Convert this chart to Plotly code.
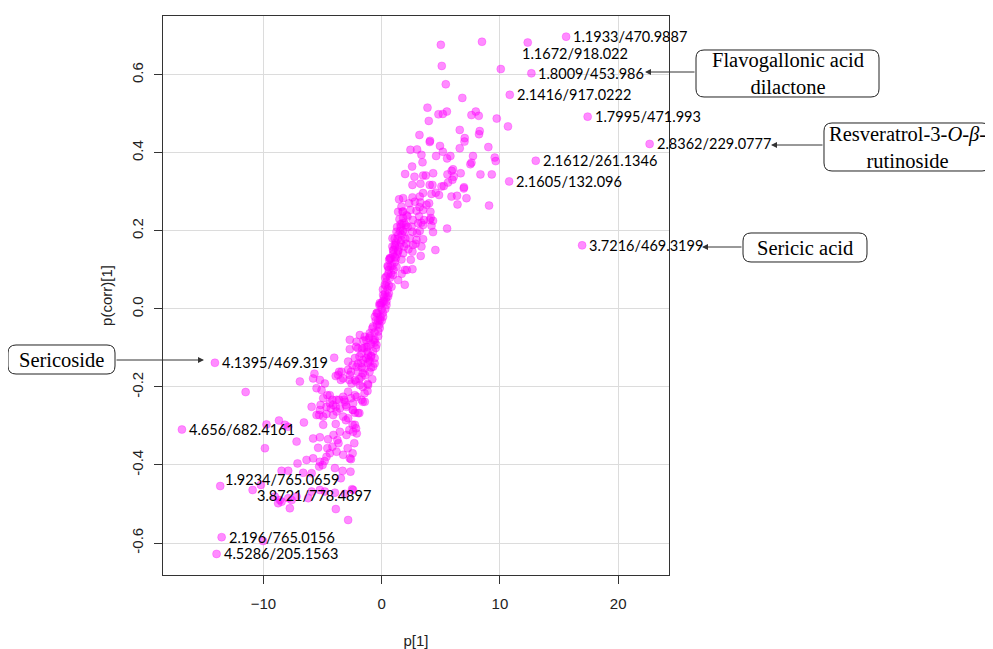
import plotly.graph_objects as go

# ---------------- data (p[1], p(corr)[1]) ----------------
upper_cloud = [
    (5.00, 0.677), (8.48, 0.685), (10.07, 0.615), (5.08, 0.623), (5.42, 0.576), (6.82, 0.541),
    (3.87, 0.516), (4.80, 0.499), (5.17, 0.500), (5.51, 0.506), (7.59, 0.497), (7.96, 0.506),
    (8.21, 0.495), (9.73, 0.488), (3.98, 0.482), (10.68, 0.468), (6.60, 0.459), (3.19, 0.446),
    (4.09, 0.431), (4.06, 0.428), (7.02, 0.438), (7.00, 0.429), (8.29, 0.456), (8.23, 0.448),
    (4.93, 0.418), (9.02, 0.415), (6.60, 0.412), (2.43, 0.408), (2.99, 0.409), (5.17, 0.403),
    (3.36, 0.395), (4.60, 0.392), (5.81, 0.392), (5.53, 0.386), (7.72, 0.392), (9.56, 0.388),
    (9.64, 0.379), (3.45, 0.376), (2.57, 0.365), (7.50, 0.371), (7.59, 0.375), (6.03, 0.358),
    (5.92, 0.354), (1.98, 0.346), (2.77, 0.339), (3.50, 0.342), (3.73, 0.342), (4.35, 0.348),
    (5.56, 0.345), (6.09, 0.339), (6.68, 0.348), (8.35, 0.345), (9.31, 0.345),
]

mid_cloud = [
    (2.60, 0.318), (3.28, 0.321), (4.06, 0.318), (4.29, 0.318), (5.05, 0.314), (5.25, 0.315),
    (5.61, 0.324), (5.98, 0.331), (6.94, 0.309), (6.96, 0.312), (3.50, 0.297), (4.21, 0.295),
    (4.85, 0.292), (4.57, 0.298), (5.90, 0.288), (6.37, 0.290), (7.17, 0.284), (6.41, 0.268),
    (9.08, 0.265), (1.47, 0.281), (1.81, 0.284), (2.60, 0.286), (3.22, 0.288), (2.32, 0.271),
    (2.80, 0.275), (3.28, 0.273), (4.01, 0.271), (3.79, 0.267), (1.39, 0.249), (1.76, 0.249),
    (1.67, 0.262), (2.43, 0.254), (2.94, 0.252), (3.50, 0.254), (4.12, 0.249), (1.81, 0.233),
    (2.18, 0.237), (2.65, 0.228), (3.16, 0.237), (3.58, 0.228), (4.15, 0.233), (4.34, 0.226),
    (1.59, 0.217), (2.04, 0.215), (2.52, 0.211), (3.08, 0.220), (3.50, 0.215), (4.21, 0.213),
    (5.53, 0.206), (1.25, 0.198), (1.95, 0.198), (2.60, 0.198), (3.22, 0.200), (4.34, 0.197),
    (0.91, 0.181), (1.67, 0.177), (2.37, 0.181), (2.94, 0.177), (3.50, 0.179), (1.10, 0.164),
    (2.09, 0.167), (2.65, 0.164), (3.36, 0.160), (4.54, 0.151), (0.96, 0.151), (1.39, 0.147),
    (1.81, 0.143), (2.60, 0.147), (3.30, 0.136), (0.68, 0.130), (1.10, 0.133), (1.67, 0.127),
    (2.46, 0.126), (0.54, 0.108), (1.25, 0.108), (1.95, 0.100), (2.60, 0.102), (0.40, 0.083),
    (0.96, 0.087), (1.39, 0.074), (1.95, 0.062), (0.26, 0.062), (0.83, 0.057), (0.12, 0.036),
    (0.54, 0.032), (-0.02, 0.015), (0.40, 0.010), (-0.30, -0.011), (0.12, -0.020), (-0.58, -0.020),
    (3.20, 0.261), (2.98, 0.194), (1.89, 0.160), (2.26, 0.153), (2.87, 0.167), (0.63, 0.126),
    (1.69, 0.090), (2.12, 0.100), (3.35, 0.221), (4.06, 0.228),
]

core_cloud = [
    (0.00, 0.00), (0.20, 0.02), (0.30, 0.04), (0.50, 0.05), (0.40, 0.07), (0.70, 0.08),
    (0.60, 0.10), (0.90, 0.11), (0.80, 0.13), (1.10, 0.12), (1.00, 0.15), (1.30, 0.14),
    (1.20, 0.17), (1.50, 0.16), (1.40, 0.19), (1.70, 0.19), (1.60, 0.21), (1.90, 0.22),
    (0.10, 0.05), (0.30, 0.08), (0.50, 0.11), (0.70, 0.13), (0.90, 0.16), (1.10, 0.18),
    (1.30, 0.21), (1.50, 0.23), (0.60, 0.06), (0.80, 0.09), (1.00, 0.10), (1.20, 0.13),
    (1.40, 0.15), (1.60, 0.17), (1.80, 0.20), (2.00, 0.18), (2.20, 0.21), (1.80, 0.25),
    (2.10, 0.24), (-0.20, 0.01), (-0.10, -0.02), (0.10, -0.01), (0.30, 0.00), (-0.30, -0.03),
    (0.20, 0.03), (0.40, 0.03), (0.60, 0.04), (0.35, 0.06), (0.55, 0.09), (0.75, 0.11),
    (0.95, 0.14), (1.15, 0.16), (1.35, 0.18), (1.55, 0.20), (1.75, 0.22),
    (-0.50, -0.03), (-0.80, -0.05), (-1.00, -0.07), (-1.30, -0.08), (-0.60, -0.06), (-0.90, -0.09),
    (-1.20, -0.11), (-0.40, -0.04), (-0.70, -0.08), (-1.50, -0.10), (-1.10, -0.13), (-0.90, -0.15),
    (-0.50, -0.10), (-0.30, -0.07), (-1.70, -0.15), (-1.40, -0.17), (-0.80, -0.18), (-1.20, -0.21),
    (-0.90, -0.12), (-0.60, -0.14), (-1.90, -0.18), (-1.60, -0.20), (-2.00, -0.14), (-0.20, -0.04),
    (0.00, -0.03), (-0.40, -0.01), (-0.10, 0.01), (0.10, 0.02),
]

lower_cloud = [
    (-0.16, 0.015), (0.40, 0.019), (-0.44, -0.011), (-0.16, -0.028), (-0.73, -0.045), (-0.30, -0.058),
    (-1.85, -0.067), (-1.43, -0.071), (-1.01, -0.062), (-0.58, -0.079), (-2.70, -0.079), (-2.13, -0.084),
    (-2.70, -0.103), (-2.00, -0.101), (-1.29, -0.097), (-0.44, -0.092), (-1.71, -0.114), (-1.15, -0.118),
    (-0.73, -0.109), (-1.57, -0.131), (-1.01, -0.135), (-2.27, -0.126), (-2.84, -0.135), (-2.13, -0.148),
    (-1.43, -0.152), (-0.73, -0.148), (-4.02, -0.125), (-2.84, -0.156), (-3.40, -0.161), (-3.69, -0.169),
    (-3.26, -0.178), (-2.70, -0.169), (-2.27, -0.182), (-1.71, -0.174), (-1.15, -0.195), (-1.85, -0.195),
    (-2.55, -0.191), (-6.92, -0.186), (-5.80, -0.178), (-5.23, -0.182), (-4.81, -0.191), (-5.51, -0.203),
    (-5.09, -0.208), (-4.39, -0.221), (-4.95, -0.229), (-3.82, -0.233), (-3.26, -0.225), (-2.84, -0.212),
    (-2.27, -0.221), (-1.71, -0.233), (-1.43, -0.238), (-5.93, -0.251), (-5.23, -0.259), (-4.67, -0.251),
    (-4.11, -0.246), (-3.54, -0.255), (-2.98, -0.251), (-2.42, -0.259), (-2.00, -0.267), (-5.51, -0.272),
    (-4.95, -0.276), (-4.11, -0.272), (-3.26, -0.276), (-2.84, -0.280),
    (-1.54, -0.081), (-1.08, -0.075), (-0.17, -0.049), (-2.17, -0.097), (-1.66, -0.101), (-1.18, -0.097),
    (-0.60, -0.086), (-1.89, -0.122), (-1.31, -0.126), (-0.89, -0.122), (-0.60, -0.126), (-2.46, -0.144),
    (-1.74, -0.139), (-1.18, -0.139), (-3.60, -0.161), (-2.60, -0.161), (-2.03, -0.161), (-1.60, -0.165),
    (-1.03, -0.161), (-3.89, -0.172), (-3.46, -0.182), (-2.74, -0.182), (-2.17, -0.186), (-1.18, -0.192),
    (-4.60, -0.221), (-4.17, -0.233), (-3.60, -0.233), (-3.17, -0.233), (-2.60, -0.229), (-2.11, -0.225),
    (-1.45, -0.216), (-1.60, -0.238), (-4.31, -0.255), (-3.89, -0.251), (-3.03, -0.246), (-2.46, -0.259),
    (-1.89, -0.267), (-3.03, -0.285), (-2.46, -0.297), (-2.17, -0.306), (-2.74, -0.310), (-2.11, -0.319),
    (-2.32, -0.344), (-2.88, -0.357), (-2.46, -0.370), (-2.60, -0.385), (-3.75, -0.336), (-4.17, -0.353),
    (-4.60, -0.357), (-4.54, -0.334), (-4.08, -0.323), (-3.89, -0.295), (-3.66, -0.344),
]

tail_cloud = [
    (-5.17, -0.246), (-4.39, -0.242), (-3.12, -0.238), (-2.42, -0.242), (-5.29, -0.272), (-4.67, -0.269),
    (-3.82, -0.263), (-2.27, -0.266), (-6.58, -0.291), (-4.95, -0.297), (-2.27, -0.297), (-7.91, -0.302),
    (-9.88, -0.357), (-7.20, -0.340), (-5.80, -0.332), (-5.23, -0.329), (-3.54, -0.315), (-2.98, -0.323),
    (-2.42, -0.315), (-5.38, -0.356), (-6.36, -0.387), (-5.80, -0.383), (-5.23, -0.392), (-4.67, -0.379),
    (-4.39, -0.370), (-3.82, -0.366), (-3.26, -0.374), (-2.70, -0.383), (-7.12, -0.396), (-5.29, -0.404),
    (-5.00, -0.400), (-8.47, -0.415), (-7.91, -0.415), (-6.64, -0.420), (-5.93, -0.421), (-3.96, -0.408),
    (-3.31, -0.415), (-2.64, -0.417), (-3.46, -0.434), (-10.92, -0.464), (-10.22, -0.451), (-9.04, -0.481),
    (-8.61, -0.490), (-8.47, -0.494), (-8.76, -0.498), (-7.91, -0.485), (-7.62, -0.490), (-7.77, -0.511),
    (-7.20, -0.481), (-6.22, -0.485), (-5.93, -0.468), (-5.23, -0.464), (-4.81, -0.468), (-3.96, -0.471),
    (-3.12, -0.474), (-2.42, -0.464), (-3.88, -0.513), (-2.84, -0.541), (-11.51, -0.213), (-5.69, -0.166),
    (-9.75, -0.296), (-8.69, -0.286), (-8.19, -0.297), (-4.83, -0.390), (-2.51, -0.462), (-10.03, -0.595),
]

# labelled variables
label_text = ["1.1933/470.9887", "1.1672/918.022", "1.8009/453.986", "2.1416/917.0222",
              "1.7995/471.993", "2.8362/229.0777", "2.1612/261.1346", "2.1605/132.096",
              "3.7216/469.3199", "4.1395/469.319", "4.656/682.4161", "1.9234/765.0659",
              "2.196/765.0156", "4.5286/205.1563"]
label_p1 = [15.60, 12.35, 12.66, 10.83, 17.42, 22.66, 13.03, 10.78, 16.95,
            -14.11, -16.90, -13.66, -13.54, -13.97]
label_pcorr = [0.698, 0.683, 0.604, 0.549, 0.493, 0.423, 0.380, 0.327, 0.163,
               -0.138, -0.309, -0.454, -0.585, -0.628]

extra_label_text = ["3.8721/778.4897"]
extra_label_p1 = [-10.73]
extra_label_pcorr = [-0.479]

x_ticks = [-10, 0, 10, 20]
y_ticks = [-0.6, -0.4, -0.2, 0.0, 0.2, 0.4, 0.6]
y_tick_text = ["-0.6", "-0.4", "-0.2", "0.0", "0.2", "0.4", "0.6"]

compound_names = ["Flavogallonic acid<br>dilactone",
                  "Resveratrol-3-<i>O</i>-<i>β</i>-<br>rutinoside",
                  "Sericic acid", "Sericoside"]

# ---------------- layout helpers (pixel geometry of the page) ----------------
OFF = 8                      # default body margin of the html page
W, H = 993 - OFF, 649 - OFF  # figure size
L, R, T, B = 163, 669, 16, 575  # plot frame in page pixels


def pxx(x):
    return (x - L) / (R - L)


def pxy(y):
    return (B - y) / (B - T)


def rbox(x0, y0, x1, y1, r=8):
    pts = [
        ("M", (x0 + r, y0)), ("L", (x1 - r, y0)), ("Q", (x1, y0), (x1, y0 + r)),
        ("L", (x1, y1 - r)), ("Q", (x1, y1), (x1 - r, y1)), ("L", (x0 + r, y1)),
        ("Q", (x0, y1), (x0, y1 - r)), ("L", (x0, y0 + r)), ("Q", (x0, y0), (x0 + r, y0)),
    ]
    s = ""
    for seg in pts:
        s += seg[0] + " " + " ".join(f"{pxx(p[0]):.5f},{pxy(p[1]):.5f}" for p in seg[1:]) + " "
    return s + "Z"


# boxes: (x0, y0, x1, y1) in page px, arrow head (x,y), arrow tail (x,y)
boxes = [
    ((696, 50, 879, 97), (645, 72), (696, 72)),
    ((824, 123, 990, 171), (771, 145), (824, 145)),
    ((743, 233, 867, 262), (702, 247), (743, 247)),
    ((8, 345, 115, 374), (204, 360), (115, 360)),
]

cloud = upper_cloud + mid_cloud + core_cloud + lower_cloud + tail_cloud
cx = [p[0] for p in cloud]
cy = [p[1] for p in cloud]

MAG = "rgba(255,0,255,0.45)"
marker = dict(size=8, color=MAG, line=dict(width=0.8, color="rgba(255,0,255,0.35)"))

fig = go.Figure()
fig.add_trace(go.Scatter(x=cx, y=cy, mode="markers", marker=marker, hoverinfo="skip"))
fig.add_trace(go.Scatter(x=label_p1, y=label_pcorr, mode="markers", marker=marker,
                         text=label_text, hoverinfo="text"))

lab_font = dict(family="Lato, Open Sans, sans-serif", size=14.5, color="black")
special_shift = {1: (-8, -11), 11: (3, 7)}
annotations = []
for i, t in enumerate(label_text):
    xs, ys = special_shift.get(i, (5, 0))
    annotations.append(dict(x=label_p1[i], y=label_pcorr[i], text=t, showarrow=False,
                            xanchor="left", yanchor="middle", xshift=xs, yshift=ys,
                            font=lab_font))
for i, t in enumerate(extra_label_text):
    annotations.append(dict(x=extra_label_p1[i], y=extra_label_pcorr[i], text=t, showarrow=False,
                            xanchor="left", yanchor="middle", font=lab_font))

shapes = []
box_font = dict(family="Liberation Serif, Times New Roman, serif", size=20.5, color="black")
for name, (bx, head, tail) in zip(compound_names, boxes):
    x0, y0, x1, y1 = bx
    shapes.append(dict(type="path", xref="paper", yref="paper", path=rbox(x0, y0, x1, y1),
                       line=dict(color="#222222", width=1), fillcolor="white", layer="above"))
    annotations.append(dict(xref="paper", yref="paper", x=pxx((x0 + x1) / 2), y=pxy((y0 + y1) / 2),
                            text=name, showarrow=False, xanchor="center", yanchor="middle",
                            font=box_font))
    annotations.append(dict(xref="paper", yref="paper", x=pxx(head[0]), y=pxy(head[1]), text="",
                            showarrow=True, ax=tail[0] - head[0], ay=tail[1] - head[1],
                            arrowhead=2, arrowsize=1.2, arrowwidth=1, arrowcolor="#333333",
                            standoff=0, startstandoff=0))

axis_font = dict(family="Liberation Sans, Arial, sans-serif", size=15, color="#222222")
fig.update_layout(
    width=W, height=H,
    margin=dict(l=L - OFF, r=W - (R - OFF), t=T - OFF, b=H - (B - OFF), autoexpand=False),
    paper_bgcolor="white", plot_bgcolor="white",
    showlegend=False,
    shapes=shapes, annotations=annotations,
    xaxis=dict(range=[-18.5, 24.3], tickvals=x_ticks, ticks="outside", ticklen=8, tickwidth=1,
               tickcolor="#333333", showline=True, linecolor="#333333", linewidth=1.2, mirror=True,
               showgrid=True, gridcolor="#dcdcdc", gridwidth=1, zeroline=False,
               ticklabelstandoff=7,
               tickfont=axis_font, title=dict(text="p[1]", font=axis_font, standoff=24)),
    yaxis=dict(range=[-0.682, 0.751], tickvals=y_ticks, ticktext=y_tick_text, ticks="outside",
               ticklen=8, tickwidth=1, tickcolor="#333333", showline=True, linecolor="#333333",
               linewidth=1.2, mirror=True, showgrid=True, gridcolor="#dcdcdc", gridwidth=1,
               zeroline=False, tickangle=-90, tickfont=axis_font, ticklabelstandoff=5,
               title=dict(text="p(corr)[1]", font=axis_font, standoff=12)),
)

fig.write_html("out.html")
